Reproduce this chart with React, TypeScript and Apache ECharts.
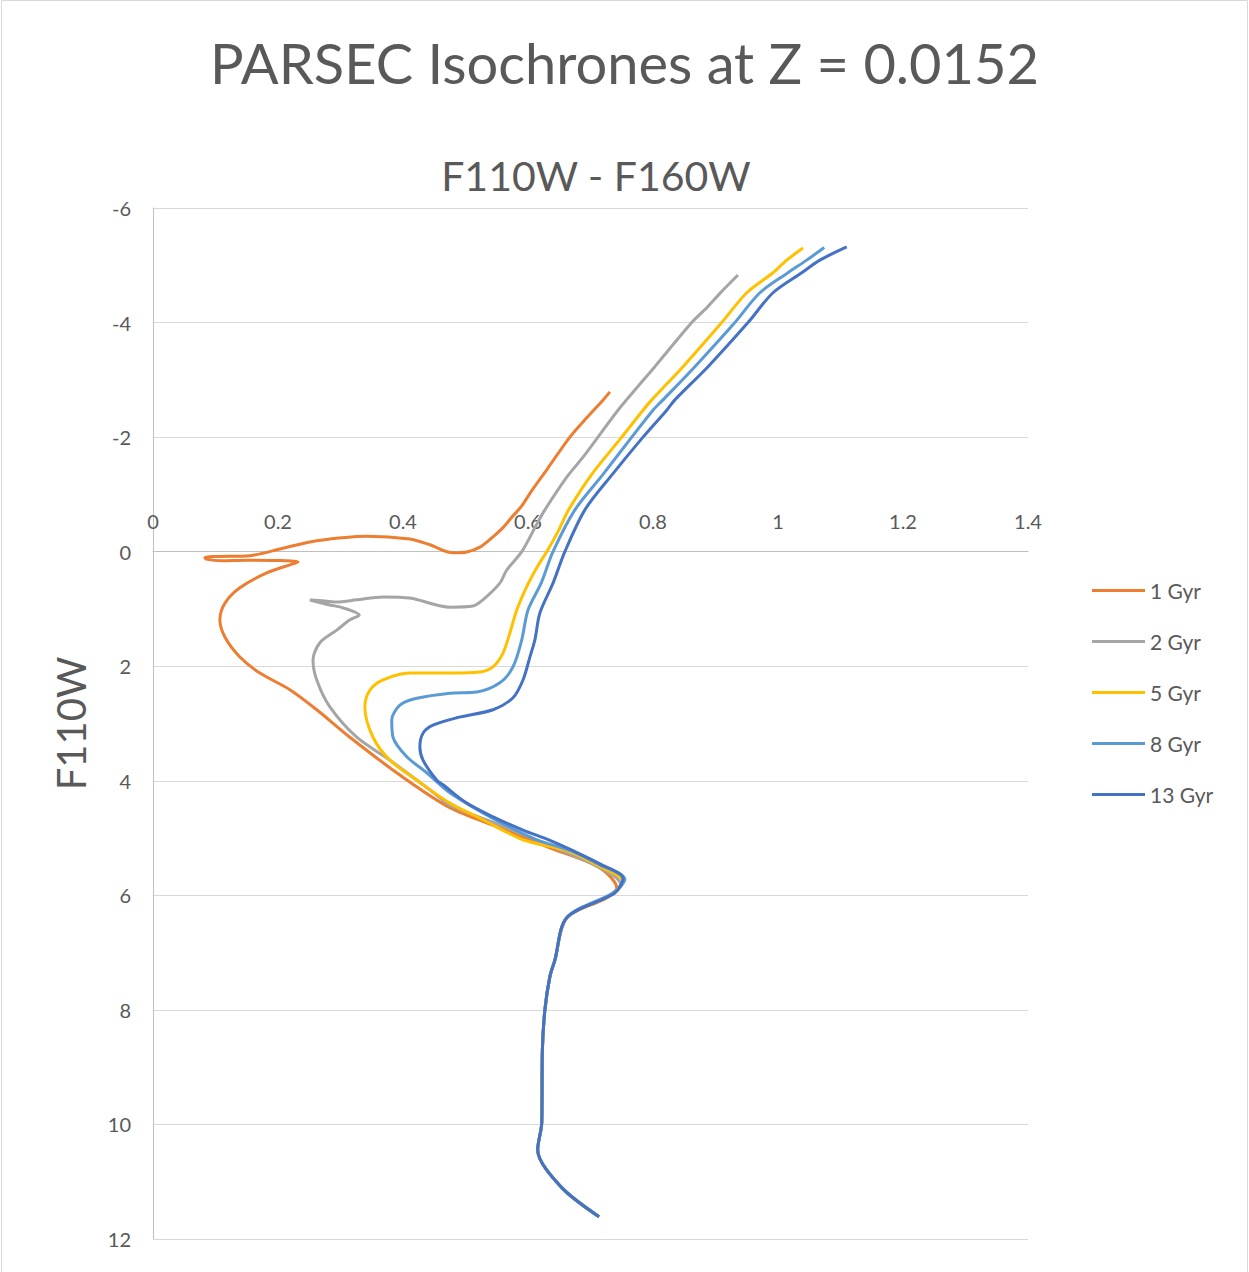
import React, { useEffect, useRef } from "react";
import * as echarts from "echarts";

const ageLabels = ["1 Gyr", "2 Gyr", "5 Gyr", "8 Gyr", "13 Gyr"];
const lineColors = ["#ED7D31", "#A5A5A5", "#FFC000", "#5B9BD5", "#4472C4"];
const xTickValues = [0, 0.2, 0.4, 0.6, 0.8, 1, 1.2, 1.4];
const yTickValues = [-6, -4, -2, 0, 2, 4, 6, 8, 10, 12];

// Lower main sequence shared by all ages: [F110W - F160W, F110W]
const lowerMS = [
  [0.7136, 11.61], [0.6528, 11.09], [0.6155, 10.44], [0.622, 9.97], [0.623, 8.7],
  [0.627, 8.0], [0.635, 7.42], [0.643, 7.13], [0.662, 6.39],
];

const iso1 = [
  [0.725, 6.05], [0.742, 5.87], [0.715, 5.52], [0.635, 5.17], [0.555, 4.82], [0.475, 4.47],
  [0.395, 3.9], [0.315, 3.24], [0.262, 2.76], [0.219, 2.41], [0.171, 2.12], [0.139, 1.84],
  [0.115, 1.49], [0.107, 1.19], [0.115, 0.9], [0.139, 0.63], [0.182, 0.37], [0.219, 0.23],
  [0.232, 0.18], [0.2, 0.155], [0.15, 0.15], [0.11, 0.16], [0.085, 0.13], [0.083, 0.1],
  [0.1, 0.085], [0.155, 0.07], [0.208, -0.06], [0.262, -0.19], [0.342, -0.27], [0.411, -0.22],
  [0.443, -0.12], [0.48, 0.02], [0.502, 0.005], [0.523, -0.08], [0.544, -0.26], [0.56, -0.42],
  [0.574, -0.6], [0.59, -0.8], [0.605, -1.05], [0.63, -1.43], [0.667, -2.0], [0.695, -2.35],
  [0.718, -2.62], [0.731, -2.79],
];

const iso2 = [
  [0.73, 6.0], [0.748, 5.8], [0.712, 5.5], [0.635, 5.13], [0.555, 4.77], [0.475, 4.43],
  [0.448, 4.2], [0.379, 3.64], [0.326, 3.24], [0.283, 2.71], [0.262, 2.24], [0.256, 1.89],
  [0.267, 1.59], [0.294, 1.37], [0.315, 1.19], [0.33, 1.105], [0.304, 0.98], [0.283, 0.93],
  [0.251, 0.843], [0.275, 0.86], [0.294, 0.88], [0.326, 0.84], [0.368, 0.79], [0.411, 0.81],
  [0.475, 0.97], [0.512, 0.95], [0.528, 0.84], [0.555, 0.55], [0.566, 0.32], [0.59, 0.0],
  [0.615, -0.5], [0.627, -0.73], [0.662, -1.3], [0.688, -1.65], [0.712, -2.0], [0.744, -2.47],
  [0.785, -3.0], [0.803, -3.23], [0.862, -4.0], [0.887, -4.27], [0.907, -4.51], [0.936, -4.83],
];

const iso5 = [
  [0.735, 5.98], [0.752, 5.76], [0.71, 5.47], [0.665, 5.23], [0.592, 5.03], [0.528, 4.68],
  [0.475, 4.39], [0.422, 3.99], [0.379, 3.64], [0.352, 3.24], [0.339, 2.71], [0.347, 2.42],
  [0.368, 2.24], [0.411, 2.12], [0.475, 2.12], [0.523, 2.1], [0.544, 2.01], [0.56, 1.77],
  [0.571, 1.42], [0.582, 1.02], [0.598, 0.61], [0.614, 0.28], [0.63, 0.0], [0.648, -0.35],
  [0.665, -0.73], [0.702, -1.35], [0.75, -2.0], [0.784, -2.47], [0.798, -2.65], [0.848, -3.23],
  [0.91, -4.0], [0.95, -4.52], [0.992, -4.87], [1.014, -5.09], [1.04, -5.3],
];

const iso8 = [
  [0.739, 5.94], [0.755, 5.72], [0.712, 5.45], [0.668, 5.22], [0.614, 5.03], [0.571, 4.81],
  [0.528, 4.56], [0.475, 4.21], [0.438, 3.86], [0.406, 3.58], [0.384, 3.24], [0.382, 2.94],
  [0.395, 2.68], [0.422, 2.56], [0.475, 2.47], [0.518, 2.45], [0.555, 2.29], [0.576, 2.01],
  [0.59, 1.54], [0.6, 1.02], [0.621, 0.55], [0.64, 0.0], [0.675, -0.73], [0.72, -1.35],
  [0.766, -2.0], [0.8, -2.47], [0.816, -2.65], [0.867, -3.23], [0.931, -4.0], [0.971, -4.52],
  [1.016, -4.87], [1.046, -5.09], [1.074, -5.31],
];

const iso13 = [
  [0.739, 5.96], [0.752, 5.7], [0.715, 5.45], [0.672, 5.22], [0.635, 5.04], [0.592, 4.86],
  [0.544, 4.63], [0.502, 4.39], [0.464, 4.07], [0.454, 3.99], [0.432, 3.64], [0.427, 3.41],
  [0.432, 3.17], [0.448, 3.03], [0.486, 2.9], [0.544, 2.76], [0.576, 2.55], [0.592, 2.24],
  [0.603, 1.84], [0.611, 1.54], [0.619, 1.07], [0.64, 0.55], [0.659, 0.0], [0.691, -0.73],
  [0.735, -1.35], [0.784, -2.0], [0.822, -2.47], [0.835, -2.65], [0.888, -3.23], [0.952, -4.0],
  [0.992, -4.52], [1.038, -4.87], [1.067, -5.09], [1.11, -5.32],
];

const isochrones = [iso1, iso2, iso5, iso8, iso13];

const FONT = "Lato, 'Open Sans', sans-serif";

const GRID_TOP = 208;
const GRID_BOTTOM = 33;
const CHART_H = 1272;

export default function App() {
  const ref = useRef<HTMLDivElement>(null);

  useEffect(() => {
    if (!ref.current) return;
    const chart = echarts.init(ref.current, null, { renderer: "svg" });
    const yMin = yTickValues[0];
    const yMax = yTickValues[yTickValues.length - 1];
    const gridH = CHART_H - GRID_TOP - GRID_BOTTOM;
    // place the colour axis where F110W = 0 (as the reference does)
    const zeroOffset = (gridH * (0 - yMin)) / (yMax - yMin);
    const series = isochrones.map((pts, i) => ({
      name: ageLabels[i],
      type: "line",
      data: [...lowerMS, ...pts],
      showSymbol: false,
      symbol: "none",
      smooth: 0.3,
      lineStyle: { width: 3, color: lineColors[i] },
      itemStyle: { color: lineColors[i] },
      z: 2 + i,
    }));
    chart.setOption({
      animation: false,
      backgroundColor: "#ffffff",
      textStyle: { fontFamily: FONT },
      title: [
        {
          text: "PARSEC Isochrones at Z = 0.0152",
          left: "center",
          top: 29,
          textStyle: { fontFamily: FONT, fontSize: 56, fontWeight: "normal", color: "#595959" },
        },
        {
          text: "F110W - F160W",
          left: 591,
          textAlign: "center",
          top: 150,
          textStyle: { fontFamily: FONT, fontSize: 41, fontWeight: "normal", color: "#595959" },
        },
      ],
      legend: {
        orient: "vertical",
        left: 1092,
        top: 580,
        padding: 0,
        itemWidth: 53,
        itemHeight: 3,
        itemGap: 30,
        icon: "rect",
        data: ageLabels,
        textStyle: { fontFamily: FONT, fontSize: 21, color: "#595959", lineHeight: 20 },
      },
      grid: { left: 153, right: 221, top: GRID_TOP, bottom: GRID_BOTTOM, containLabel: false },
      xAxis: {
        type: "value",
        min: xTickValues[0],
        max: xTickValues[xTickValues.length - 1],
        interval: 0.2,
        position: "top",
        offset: -zeroOffset,
        axisLine: { show: true, onZero: false, lineStyle: { color: "#BFBFBF", width: 1 } },
        axisTick: { show: false },
        splitLine: { show: false },
        axisLabel: {
          fontFamily: FONT,
          fontSize: 20,
          color: "#595959",
          margin: 21,
          formatter: (v: number) => String(Math.round(v * 10) / 10),
        },
      },
      yAxis: {
        type: "value",
        inverse: true,
        min: yMin,
        max: yMax,
        interval: 2,
        name: "F110W",
        nameLocation: "middle",
        nameGap: 62,
        nameTextStyle: { fontFamily: FONT, fontSize: 40, color: "#595959" },
        axisLine: { show: true, onZero: false, lineStyle: { color: "#BFBFBF", width: 1 } },
        axisTick: { show: false },
        splitLine: { show: true, lineStyle: { color: "#D9D9D9", width: 1 } },
        axisLabel: { fontFamily: FONT, fontSize: 20, color: "#595959", margin: 22 },
      },
      graphic: [
        {
          type: "rect",
          shape: { x: 1.5, y: 0.5, width: 1246, height: 1300 },
          style: { fill: "none", stroke: "#D9D9D9", lineWidth: 1 },
          silent: true,
        },
      ],
      series,
    });
    return () => chart.dispose();
  }, []);

  return (
    <div
      ref={ref}
      style={{ position: "absolute", left: 0, top: 0, width: 1249, height: CHART_H }}
    />
  );
}
